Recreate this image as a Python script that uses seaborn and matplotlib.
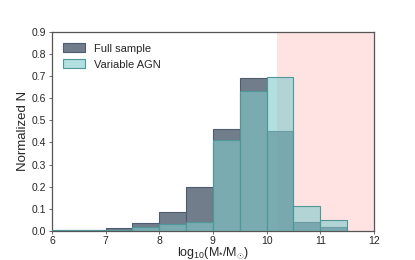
import numpy as np
import pandas as pd
import seaborn as sns
import matplotlib
matplotlib.use("Agg")
import matplotlib.pyplot as plt

# bin edges (log10 stellar mass) and normalised heights
bin_edges = [6.0, 6.5, 7.0, 7.5, 8.0, 8.5, 9.0, 9.5, 10.0, 10.5, 11.0, 11.5]
full_sample = [0.003, 0.003, 0.012, 0.035, 0.086, 0.200, 0.459, 0.690, 0.453, 0.042, 0.017]
variable_agn = [0.002, 0.002, 0.004, 0.017, 0.030, 0.038, 0.411, 0.634, 0.695, 0.113, 0.047]
shade_from = 10.2

centers = [(a + b) / 2 for a, b in zip(bin_edges[:-1], bin_edges[1:])]
df = pd.DataFrame({"mass": centers, "full": full_sample, "agn": variable_agn})

sns.set_style("ticks")
plt.rcParams["font.family"] = ["Liberation Sans", "DejaVu Sans"]
plt.rcParams["mathtext.fontset"] = "custom"
plt.rcParams["mathtext.rm"] = "Liberation Sans"
plt.rcParams["mathtext.it"] = "Liberation Sans"

fig = plt.figure(figsize=(4.15, 2.6), dpi=100)
ax = fig.add_axes([0.125, 0.112, 0.776, 0.765])

# shaded region
ax.axvspan(shade_from, 12, color="#ffe3e3", zorder=0, lw=0)

sns.histplot(data=df, x="mass", weights="full", bins=bin_edges, stat="count",
             color="#4e5c6e", alpha=0.8, edgecolor="#4e5c6e", linewidth=0.8,
             label="Full sample", ax=ax, zorder=2)
sns.histplot(data=df, x="mass", weights="agn", bins=bin_edges, stat="count",
             color="#7fcaca", alpha=0.6, edgecolor="#4f9799", linewidth=0.8,
             label="Variable AGN", ax=ax, zorder=3)

ax.set_xlim(6, 12)
ax.set_ylim(0, 0.9)
ax.set_xticks(range(6, 13))
ax.set_yticks(np.arange(0, 0.91, 0.1))
ax.set_yticklabels([f"{v:.1f}" for v in np.arange(0, 0.91, 0.1)])
ax.tick_params(labelsize=7.5, length=2.5, width=0.6, color="#555555", pad=1.5)
for s in ax.spines.values():
    s.set_color("#555555")
    s.set_linewidth(0.9)

ax.set_xlabel(r"$\mathrm{log_{10}(M_{*}/M_{\odot})}$", fontsize=9)
ax.xaxis.set_label_coords(0.5, -0.072)
ax.set_ylabel("Normalized N", fontsize=9.5, labelpad=2)

ax.legend(loc="upper left", frameon=False, fontsize=8, handlelength=2.0,
          handleheight=0.9, handletextpad=0.8, borderaxespad=0.6,
          labelspacing=0.5)

fig.savefig("out.png", dpi=100)
